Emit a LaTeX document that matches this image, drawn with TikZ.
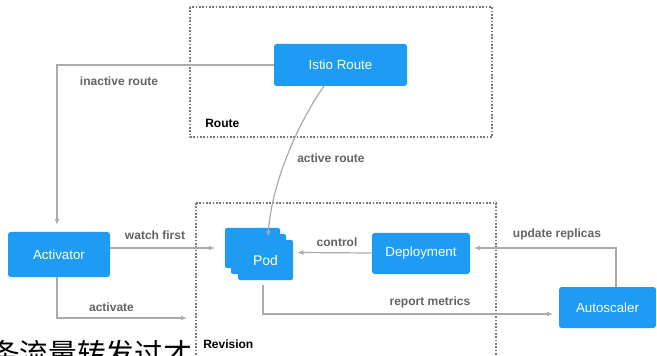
\documentclass[tikz,border=0pt]{standalone}
\usepackage{fontspec}
\setmainfont{Liberation Sans}
\newfontfamily\cjk{Noto Sans CJK SC}
\usetikzlibrary{arrows.meta,calc}
\definecolor{boxblue}{RGB}{30,156,244}
\definecolor{linegray}{RGB}{170,170,170}
\definecolor{labelgray}{RGB}{100,100,100}
\definecolor{dotgray}{RGB}{120,120,120}
\tikzset{
  x=0.75pt, y=-0.75pt,
  bluebox/.style={rectangle, rounded corners=2pt, fill=boxblue, text=white, inner sep=0pt, font=\fontsize{10}{12}\selectfont},
  podbox/.style={rectangle, rounded corners=1.5pt, fill=boxblue, text=white, inner sep=0pt, minimum width=41.25pt, minimum height=30pt, font=\fontsize{10.5}{12}\selectfont},
  conn/.style={draw=linegray, line width=0.9pt, -{Latex[length=4.5pt,width=3.6pt]}},
  lbl/.style={text=labelgray, font=\bfseries\fontsize{9}{11}\selectfont, inner sep=0pt},
  grouplbl/.style={text=black, font=\bfseries\fontsize{9}{11}\selectfont, inner sep=0pt, anchor=west},
  groupbox/.style={draw=dotgray, line width=0.9pt, dash pattern=on 1.2pt off 1.3pt},
}
\begin{document}
\begin{tikzpicture}
\useasboundingbox[fill=white] (0,0) rectangle (657,356);
% group boxes
\draw[groupbox] (190,7) rectangle (492,137);
\draw[groupbox] (196,203) -- (496,203) -- (496,370);
\draw[groupbox] (196,203) -- (196,370);
\node[grouplbl] (routelbl) at (205,123) {Route};
% chinese caption (cropped)
\node[anchor=base west, inner sep=0pt, font=\cjk\fontsize{21.5}{24}\selectfont] (caption) at (-9,364) {条流量转发过才};
\node[grouplbl] (revlbl) at (203,344) {Revision};
% nodes
\node[bluebox, minimum width=99.75pt, minimum height=31.5pt] (istio) at (340.5,65) {Istio Route};
\node[bluebox, minimum width=76.5pt, minimum height=33.75pt] (act) at (59,254.5) {Activator};
\node[bluebox, minimum width=73.5pt, minimum height=30.75pt] (dep) at (421,253.5) {Deployment};
\node[bluebox, minimum width=72.75pt, minimum height=30.75pt] (auto) at (607.5,307.5) {Autoscaler};
\node[podbox] (podb) at (252.5,248) {};
\node[podbox] (podm) at (258.5,254) {};
\node[podbox] (podf) at (265.5,260) {Pod};
% coordinates
\coordinate (inx) at (57,0);
\coordinate (inend) at (57,225);
\coordinate (watchend) at (215,248);
\coordinate (actend) at (187,318);
\coordinate (upx) at (616,0);
\coordinate (upend) at (474,248);
\coordinate (repx) at (263,0);
\coordinate (repend) at (553,314);
\coordinate (activestart) at (324,86);
\coordinate (activeend) at (268,237);
% connectors
\draw[conn] (istio.west) -- (istio.west -| inx) -- (inend);
\draw[conn] (activestart) .. controls (300,120) and (272,180) .. (activeend);
\draw[conn] (act.east |- watchend) -- (watchend);
\draw[conn] (act.south -| inx) |- (actend);
\draw[conn] (dep.west |- upend) ++(0,5) -- ($(podf.east |- dep.west)+(4,-1)$);
\draw[conn] (auto.north -| upx) |- (upend);
\draw[conn] ($(podf.south -| repx)+(0,5)$) |- (repend);
% labels
\node[lbl] (l1) at (119,81) {inactive route};
\node[lbl] (l2) at (331,158) {active route};
\node[lbl] (l3) at (155,235) {watch first};
\node[lbl] (l4) at (111.5,307) {activate};
\node[lbl] (l5) at (337,242) {control};
\node[lbl] (l6) at (557,234) {update replicas};
\node[lbl] (l7) at (430,302) {report metrics};
\end{tikzpicture}
\end{document}
